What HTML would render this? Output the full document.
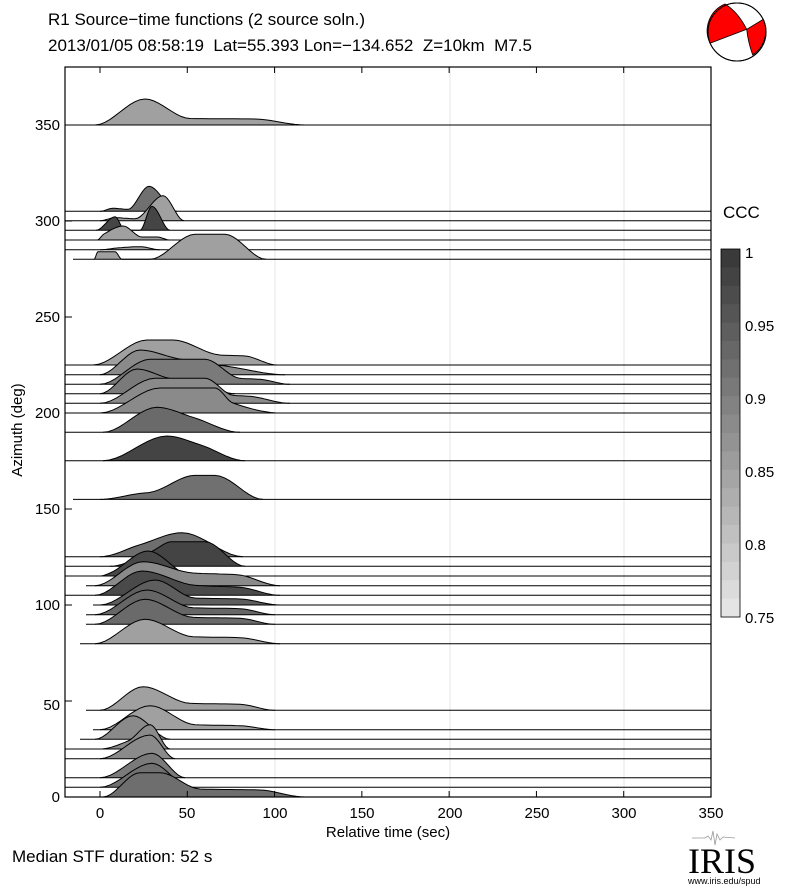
<!DOCTYPE html>
<html><head><meta charset="utf-8"><style>
html,body{margin:0;padding:0;background:#fff;}
svg{display:block;font-family:"Liberation Sans",sans-serif;}
text{white-space:pre;}
</style></head><body>
<svg id="s" width="787" height="887" viewBox="0 0 787 887" xmlns="http://www.w3.org/2000/svg">
<rect width="787" height="887" fill="#fff"/>
<text x="48" y="25" font-size="17">R1 Source−time functions (2 source soln.)</text>
<text x="48" y="51" font-size="17" xml:space="preserve">2013/01/05 08:58:19  Lat=55.393 Lon=−134.652  Z=10km  M7.5</text>
<g stroke="#e6e6e6" stroke-width="1">
<line x1="275" y1="67" x2="275" y2="797"/><line x1="450" y1="67" x2="450" y2="797"/><line x1="624" y1="67" x2="624" y2="797"/>
</g>
<g id="tr"></g>
<rect x="65" y="67" width="646" height="730" fill="none" stroke="#000" stroke-width="1.2"/>
<g stroke="#000" stroke-width="1" id="ticks"></g>
<g font-size="15" text-anchor="end">
<text x="60" y="802">0</text><text x="60" y="710">50</text><text x="60" y="610">100</text><text x="60" y="514">150</text><text x="60" y="418">200</text><text x="60" y="322">250</text><text x="60" y="226">300</text><text x="60" y="130">350</text>
</g>
<g font-size="15" text-anchor="middle">
<text x="100" y="818">0</text><text x="187" y="818">50</text><text x="275" y="818">100</text><text x="362" y="818">150</text><text x="450" y="818">200</text><text x="537" y="818">250</text><text x="624" y="818">300</text><text x="711" y="818">350</text>
<text x="388" y="837">Relative time (sec)</text>
<text transform="translate(22,430) rotate(-90)">Azimuth (deg)</text>
</g>
<text x="12" y="862" font-size="17">Median STF duration: 52 s</text>
<text x="723" y="218" font-size="17">CCC</text>
<g id="cb"></g>
<rect x="721" y="249" width="19" height="368" fill="none" stroke="#000" stroke-width="0.8"/>
<g font-size="15">
<text x="745" y="258">1</text><text x="745" y="331">0.95</text><text x="745" y="404">0.9</text><text x="745" y="477">0.85</text><text x="745" y="550">0.8</text><text x="745" y="623">0.75</text>
</g>
<circle cx="737" cy="32" r="29" fill="#fff" stroke="#000" stroke-width="1"/>
<path d="M725,4 A29,29 0 0 0 710,43.3 L746.7,29.3 Q738,12 725,4 Z" fill="#f00" stroke="#000" stroke-width="0.8"/>
<path d="M746.7,29.3 L763.3,19.3 A29,29 0 0 1 752.7,55 Q748,42 746.7,29.3 Z" fill="#f00" stroke="#000" stroke-width="0.8"/>
<circle cx="737" cy="32" r="29" fill="none" stroke="#000" stroke-width="1"/>
<path d="M692,838 L705,838 L708,836 L711,840 L713,831 L715,845 L717,834 L720,840 L723,837 L735,838" fill="none" stroke="#999" stroke-width="0.8"/>
<text x="688" y="873" font-family="Liberation Serif,serif" font-size="36">IRIS</text>
<text x="688" y="884" font-size="9">www.iris.edu/spud</text>
</svg>
<script>
var T=[
[125,65,'#a0a0a0',[[95,0],[145,26],[190,6.5],[255,6],[305,0]]],
[211.3,65,'#707070',[[100,0],[113,3],[128,2],[149,25],[177,0]]],
[220.7,65,'#a0a0a0',[[100,0],[115,3],[135,2],[163,25],[184,0]]],
[230.3,65,'#454545',[[96,0],[115,13.5],[125,0],[140,0],[152,24],[170,0]]],
[240,65,'#a0a0a0',[[97,0],[104,6],[123,14],[142,3],[157,3],[170,0]]],
[249.7,65,'#a0a0a0',[[100,0],[120,2],[140,3],[160,0]]],
[259.3,73,'#a0a0a0',[[94,0],[98,7.5],[115,7.5],[122,0],[150,0],[195,25],[225,25],[266,0]]],
[365,65,'#a0a0a0',[[93,0],[147,25],[173,25],[220,10],[245,9],[277,0]]],
[374.7,65,'#8a8a8a',[[100,0],[140,24.7],[178,16],[230,8],[285,0]]],
[384.3,65,'#7a7a7a',[[100,0],[150,25],[205,25],[240,6],[260,5],[290,0]]],
[393.7,65,'#7a7a7a',[[100,0],[137,24.7],[168,15.7],[200,10],[235,0]]],
[403.3,65,'#8a8a8a',[[100,0],[155,25],[205,25],[233,8],[250,7],[290,0]]],
[413,65,'#8a8a8a',[[100,0],[160,25],[215,25],[233,10],[280,0]]],
[432.3,65,'#6a6a6a',[[103,0],[157,25],[193,15],[240,0]]],
[460.7,65,'#444444',[[103,0],[167,24.7],[200,16],[245,0]]],
[499.4,73,'#707070',[[100,0],[140,6],[150,7],[195,24],[215,24],[263,0]]],
[556.7,65,'#6e6e6e',[[100,0],[140,12],[182,24],[243,0]]],
[566.3,65,'#444444',[[110,0],[150,14],[172,24.6],[205,24.6],[245,0]]],
[576,65,'#484848',[[100,0],[110,3],[148,25],[192,0]]],
[585.7,86,'#8a8a8a',[[95,0],[143,24],[193,12.7],[237,11],[280,0]]],
[595.3,65,'#4a4a4a',[[95,0],[142,24.3],[195,10],[240,8],[280,0]]],
[605,93,'#5e5e5e',[[100,0],[155,25],[195,7],[240,6],[280,0]]],
[614.7,86,'#666666',[[95,0],[147,24.7],[193,7],[240,6],[275,0]]],
[624.3,86,'#6a6a6a',[[95,0],[145,25],[193,7],[240,6],[275,0]]],
[643.7,80,'#a0a0a0',[[95,0],[145,24.4],[193,7],[240,6],[280,0]]],
[710.3,86,'#a0a0a0',[[100,0],[143,23.6],[190,7],[240,6],[275,0]]],
[729.7,93,'#a0a0a0',[[100,0],[150,24],[195,5],[240,4],[275,0]]],
[739.3,80,'#8a8a8a',[[95,0],[133,23.6],[170,0]]],
[749,65,'#8a8a8a',[[100,0],[128,8],[150,24.3],[170,0]]],
[758.7,65,'#8a8a8a',[[100,0],[150,23.7],[175,0]]],
[777.7,65,'#7a7a7a',[[100,0],[152,24.4],[185,0]]],
[787.3,65,'#707070',[[100,0],[152,24],[190,0]]],
[797,100,'#6e6e6e',[[103,0],[140,24.3],[160,24.3],[200,8],[260,7],[305,0]]]
];
var g=document.getElementById('tr'),h='';
T.forEach(function(t){
 var y=t[0],s=t[1],c=t[2],p=t[3],pts=[],n=p.length;
 // slopes (monotone-ish)
 var m=[];
 for(var i=0;i<n;i++){
  if(i==0||i==n-1){m.push(0);continue;}
  var d0=(p[i][1]-p[i-1][1])/(p[i][0]-p[i-1][0]),d1=(p[i+1][1]-p[i][1])/(p[i+1][0]-p[i][0]);
  m.push(d0*d1<=0?0:2/(1/d0+1/d1));
 }
 for(var i=0;i<n-1;i++){var a=p[i],b=p[i+1],dx=b[0]-a[0];
  for(var k=0;k<10;k++){var u=k/10,h00=2*u*u*u-3*u*u+1,h10=u*u*u-2*u*u+u,h01=-2*u*u*u+3*u*u,h11=u*u*u-u*u;
   var v=h00*a[1]+h10*dx*m[i]+h01*b[1]+h11*dx*m[i+1];pts.push([a[0]+dx*u,Math.max(0,v)]);}}
 pts.push(p[n-1]);
 var top=pts.map(function(q){return q[0].toFixed(1)+','+(y-q[1]).toFixed(1)}).join(' L');
 h+='<path d="M'+top+' Z" fill="'+c+'" stroke="none"/>';
 h+='<path d="M'+top+'" fill="none" stroke="#000" stroke-width="1"/>';
 h+='<line x1="'+s+'" y1="'+y+'" x2="711" y2="'+y+'" stroke="#000" stroke-width="1"/>';
});
g.innerHTML=h;
var tk='';
for(var v=0;v<=350;v+=50){var x=100+v*611/350;tk+='<line x1="'+x+'" y1="797" x2="'+x+'" y2="791"/><line x1="'+x+'" y1="67" x2="'+x+'" y2="73"/>';}
for(var a=0;a<=350;a+=50){var yy=797-a*1.92;tk+='<line x1="65" y1="'+yy+'" x2="72" y2="'+yy+'"/>';}
document.getElementById('ticks').innerHTML=tk;
var cb='',N=20;
for(var i=0;i<N;i++){var f=i/(N-1),v=Math.round(0x3a+(0xe4-0x3a)*f);var col='rgb('+v+','+v+','+v+')';cb+='<rect x="721" y="'+(249+i*368/N)+'" width="19" height="'+(368/N+0.5)+'" fill="'+col+'"/>';}
document.getElementById('cb').innerHTML=cb;
</script>
</body></html>
